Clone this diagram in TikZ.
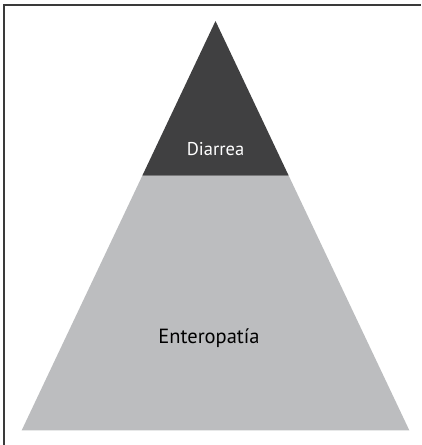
\documentclass[tikz,border=0pt]{standalone}
\usepackage{fontspec}
\setmainfont{PT Sans}
\usepackage{xcolor}
\definecolor{topgray}{HTML}{404041}
\definecolor{basegray}{HTML}{BCBDBF}
\definecolor{framegray}{HTML}{3A3A3A}

\begin{document}
\begin{tikzpicture}[x=1pt,y=1pt]
\useasboundingbox(0,0)rectangle(421,445);
% frame (only top and left edges show)
\draw[framegray,line width=1.3pt](4,0)--(4,440)--(421,440);
\coordinate (apex) at (215.5,424);
\coordinate (bl) at (21.7,14.7);
\coordinate (br) at (409.3,14.7);
\coordinate (ml) at (142.3,269.3);
\coordinate (mr) at (288.7,269.3);
\fill[basegray](bl)--(br)--(mr)--(ml)--cycle;
\fill[topgray](ml)--(mr)--(apex)--cycle;
\node[white,font=\fontsize{18.5}{22}\selectfont] (diarrea) at (215.5,296){Diarrea};
\node[black,font=\fontsize{20.5}{24}\selectfont] (entero) at (209,107){Enteropatía};
\end{tikzpicture}
\end{document}
